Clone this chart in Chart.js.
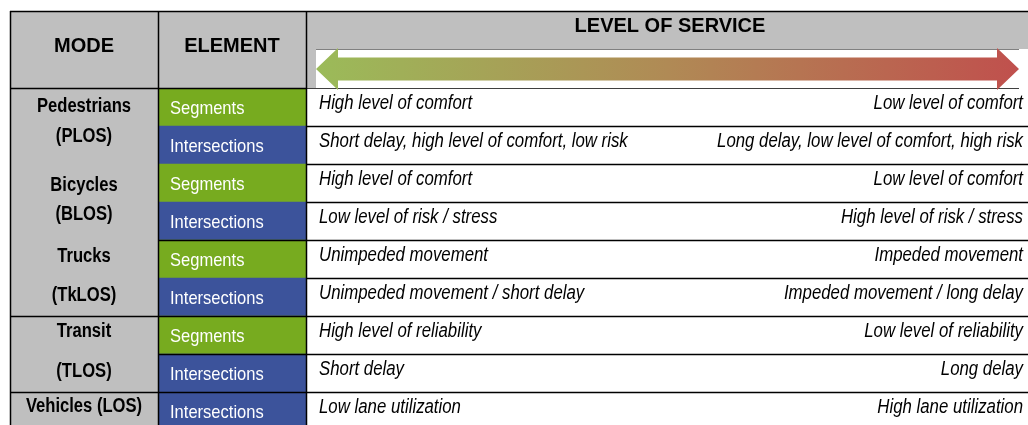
<!DOCTYPE html>
<html>
<head>
<meta charset="utf-8">
<script src="https://cdn.jsdelivr.net/npm/chart.js@4"></script>
<style>
  html, body { margin: 0; padding: 0; background: #fff; overflow: hidden; width: 1028px; height: 425px; }
  canvas { display: block; }
</style>
</head>
<body>
<canvas id="los" width="1028" height="430"></canvas>
<script>
// ── Data ─────────────────────────────────────────────────
const headers = ["MODE", "ELEMENT", "LEVEL OF SERVICE"];
const modeLabels = [["Pedestrians", "(PLOS)"], ["Bicycles", "(BLOS)"], ["Trucks", "(TkLOS)"], ["Transit", "(TLOS)"], ["Vehicles (LOS)"]];
const modeRowSpans = [2, 2, 2, 2, 1];
const elements = ["Segments", "Intersections", "Segments", "Intersections", "Segments", "Intersections", "Segments", "Intersections", "Intersections"];
const bestLOS = [
  "High level of comfort",
  "Short delay, high level of comfort, low risk",
  "High level of comfort",
  "Low level of risk / stress",
  "Unimpeded movement",
  "Unimpeded movement / short delay",
  "High level of reliability",
  "Short delay",
  "Low lane utilization",
];
const worstLOS = [
  "Low level of comfort",
  "Long delay, low level of comfort, high risk",
  "Low level of comfort",
  "High level of risk / stress",
  "Impeded movement",
  "Impeded movement / long delay",
  "Low level of reliability",
  "Long delay",
  "High lane utilization",
];

// ── Layout / style ───────────────────────────────────────
const COLS = [0, 148, 296, 1018];           // column edges in x-scale units
const GREEN = "#77AB1F", BLUE = "#3C539B", GRAY = "#BFBFBF";
const FONT = "'Liberation Sans', Arial, sans-serif";
const modeFirstBaseline = [24, 27, 22, 21, 20];
const modeLineGap = [30, 29, 39, 40, 0];
const modeColRules = [6, 8];                 // row index whose top gets a rule
const elemColRules = [4, 6, 7, 8];

function txt(ctx, s, x, y, font, color, align, sx) {
  ctx.save();
  ctx.translate(x, y);
  ctx.scale(sx, 1);
  ctx.font = font;
  ctx.fillStyle = color;
  ctx.textAlign = align;
  ctx.textBaseline = "alphabetic";
  ctx.fillText(s, 0, 0);
  ctx.restore();
}
function hline(ctx, x1, x2, y, color, w) {
  ctx.beginPath(); ctx.strokeStyle = color; ctx.lineWidth = w;
  ctx.moveTo(x1, y); ctx.lineTo(x2, y); ctx.stroke();
}
function vline(ctx, x, y1, y2, color, w) {
  ctx.beginPath(); ctx.strokeStyle = color; ctx.lineWidth = w;
  ctx.moveTo(x, y1); ctx.lineTo(x, y2); ctx.stroke();
}

// ── Table plugin ─────────────────────────────────────────
const tablePlugin = {
  id: "losTable",
  afterDraw(chart) {
    const ctx = chart.ctx;
    const xs = chart.scales.x, ys = chart.scales.y;
    const area = chart.chartArea;
    const band = ys.getPixelForValue(1) - ys.getPixelForValue(0);
    const rowTop = i => ys.getPixelForValue(i) - band / 2;
    const cx = COLS.map(v => xs.getPixelForValue(v));
    const top = area.top - 77, mid = area.top - 39, hdrBot = area.top;
    const right = chart.width;

    // header backgrounds
    ctx.fillStyle = GRAY;
    ctx.fillRect(cx[0], top, cx[2] - cx[0], hdrBot - top);
    ctx.fillRect(cx[2], top, right - cx[2], mid - top);
    ctx.fillRect(cx[2], mid, 10, hdrBot - mid);

    // arrow band rules
    hline(ctx, cx[2] + 10, right - 9, mid + 0.5, "#808080", 1.2);
    hline(ctx, cx[2], right - 9, hdrBot + 0.5, "#404040", 1.2);

    // row rules
    for (let i = 1; i < elements.length; i++) hline(ctx, cx[2], right, rowTop(i) + 0.5, "#000", 1.3);
    for (const i of elemColRules) hline(ctx, cx[1], cx[2], rowTop(i) + 0.5, "#000", 1.3);
    for (const i of modeColRules) hline(ctx, cx[0], cx[1], rowTop(i) + 0.5, "#000", 1.3);
    hline(ctx, cx[0], cx[2], hdrBot + 0.5, "#000", 1.3);
    hline(ctx, cx[0], right, top + 0.5, "#000", 1.5);

    // vertical rules
    vline(ctx, cx[0] + 0.5, top, chart.height, "#000", 1.5);
    vline(ctx, cx[1] + 0.5, top, chart.height, "#000", 1.5);
    vline(ctx, cx[2] + 0.5, top, chart.height, "#000", 1.5);

    // gradient arrow
    const ax1 = cx[2] + 10, ax2 = right - 9, ay = (mid + hdrBot) / 2 + 0.5;
    const head = 22, hh = 21, sh = 11.5;
    const g = ctx.createLinearGradient(ax1, 0, ax2, 0);
    g.addColorStop(0, "#9BBB59");
    g.addColorStop(0.5, "#B08A55");
    g.addColorStop(1, "#C0504D");
    ctx.beginPath();
    ctx.moveTo(ax1, ay);
    ctx.lineTo(ax1 + head, ay - hh);
    ctx.lineTo(ax1 + head, ay - sh);
    ctx.lineTo(ax2 - head, ay - sh);
    ctx.lineTo(ax2 - head, ay - hh);
    ctx.lineTo(ax2, ay);
    ctx.lineTo(ax2 - head, ay + hh);
    ctx.lineTo(ax2 - head, ay + sh);
    ctx.lineTo(ax1 + head, ay + sh);
    ctx.lineTo(ax1 + head, ay + hh);
    ctx.closePath();
    ctx.fillStyle = g;
    ctx.fill();

    // header texts
    const bold = "bold 20px " + FONT;
    txt(ctx, headers[0], (cx[0] + cx[1]) / 2, top + 41, bold, "#000", "center", 1);
    txt(ctx, headers[1], (cx[1] + cx[2]) / 2, top + 41, bold, "#000", "center", 1);
    txt(ctx, headers[2], (cx[2] + right) / 2 + 3, top + 21, bold, "#000", "center", 1);

    // mode labels
    let r = 0;
    modeLabels.forEach((lines, k) => {
      const t = rowTop(r);
      lines.forEach((s, j) => {
        txt(ctx, s, (cx[0] + cx[1]) / 2, t + modeFirstBaseline[k] + j * modeLineGap[k], bold, "#000", "center", 0.83);
      });
      r += modeRowSpans[k];
    });

    // element labels + LOS descriptions
    elements.forEach((s, i) => {
      const t = rowTop(i);
      txt(ctx, s, cx[1] + 12, t + 26, "19px " + FONT, "#fff", "left", 0.87);
      txt(ctx, bestLOS[i], cx[2] + 13, t + 21, "italic 20px " + FONT, "#000", "left", 0.84);
      txt(ctx, worstLOS[i], right - 5, t + 21, "italic 20px " + FONT, "#000", "right", 0.84);
    });
  },
};

// ── Chart ────────────────────────────────────────────────
new Chart(document.getElementById("los").getContext("2d"), {
  type: "bar",
  data: {
    labels: elements.map((e, i) => i + " " + e),
    datasets: [
      {
        label: "Mode",
        data: elements.map(() => [COLS[0], COLS[1]]),
        backgroundColor: GRAY,
      },
      {
        label: "Element",
        data: elements.map(() => [COLS[1], COLS[2]]),
        backgroundColor: elements.map(e => (e === "Segments" ? GREEN : BLUE)),
      },
    ],
  },
  options: {
    indexAxis: "y",
    responsive: false,
    animation: false,
    events: [],
    layout: { padding: { top: 88, left: 10, right: 0, bottom: 0 } },
    datasets: { bar: { grouped: false, barPercentage: 1, categoryPercentage: 1, borderWidth: 0 } },
    plugins: { legend: { display: false }, tooltip: { enabled: false } },
    scales: {
      x: { type: "linear", min: COLS[0], max: COLS[3], display: false },
      y: { type: "category", display: false, offset: true },
    },
  },
  plugins: [tablePlugin],
});
</script>
</body>
</html>
